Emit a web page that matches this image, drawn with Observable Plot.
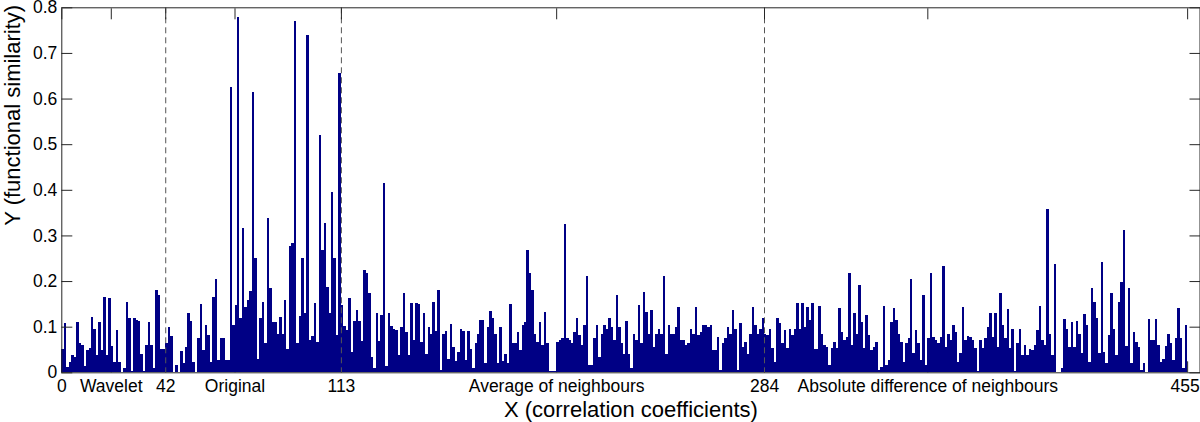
<!DOCTYPE html>
<html><head><meta charset="utf-8">
<script src="https://cdn.jsdelivr.net/npm/d3@7"></script>
<script src="https://cdn.jsdelivr.net/npm/@observablehq/plot@0.6"></script>
<style>html,body{margin:0;padding:0;background:#fff;} #chart svg{display:block;}</style>
</head><body><div id="chart"></div>
<script>
// Section 1: Wavelet coefficients (1..42)
const wavelet = [0.051,0.107,0.011,0.023,0.038,0.034,0.11,0.064,0.06,0.014,0.048,0.053,0.122,0.096,0.038,0.11,0.049,0.166,0.038,0.162,0.058,0.023,0.093,0.023,0.0,0.009,0.153,0.118,0.003,0.12,0.115,0.113,
 0.04,0.003,0.06,0.11,0.06,0.009,0.18,0.17,0.05,0.05];
// Section 2: Original (43..113)
const original = [0.064,0.1,0.08,0.0,0.016,0.0,0.047,0.02,0.056,0.13,0.113,0.023,0.0,0.075,0.15,0.049,0.104,0.082,0.023,0.166,0.204,0.027,0.076,0.076,0.027,0.027,0.626,0.104,
 0.148,0.778,0.118,0.317,0.144,0.159,0.178,0.614,0.25,0.029,0.118,0.155,0.064,0.338,0.184,0.11,0.11,0.083,0.122,0.083,0.159,0.05,0.277,0.284,0.769,0.064,0.124,0.25,0.13,0.74,0.071,0.08,0.151,0.067,0.52,0.268,0.327,0.188,0.13,0.396,0.251,0.082,0.656];
// Section 3: Average of neighbours (114..284)
const average = [0.148,0.102,0.093,0.162,0.045,0.113,0.137,0.113,0.069,0.224,0.217,0.173,0.034,0.01,0.131,0.069,0.126,0.414,0.014,0.13,0.102,0.096,0.093,0.037,0.099,0.173,0.089,0.037,0.151,0.071,0.151,0.149,0.067,
 0.13,0.04,0.1,0.085,0.155,0.09,0.18,0.005,0.085,0.09,0.03,0.105,0.055,0.025,0.045,0.095,0.09,0.028,0.09,0.05,0.01,0.065,0.085,0.115,0.115,0.02,0.1,0.135,0.12,
 0.085,0.02,0.1,0.025,0.04,0.02,0.15,0.064,0.064,0.089,0.049,0.104,0.11,
 0.268,0.217,0.18,0.085,0.067,0.11,0.06,0.133,0.064,0.003,0.003,0.003,0.067,0.071,0.075,0.325,0.075,0.071,0.064,0.089,0.118,0.082,0.06,0.104,0.211,0.016,0.016,0.075,0.104,0.034,0.085,0.104,0.096,0.118,
 0.1,0.071,0.17,0.1,0.064,0.04,0.112,0.04,0.009,0.085,0.071,0.148,0.064,0.177,0.133,0.085,0.137,0.056,0.085,0.096,0.085,0.21,0.04,0.104,0.085,0.085,0.1,0.144,0.071,0.071,0.06,0.064,0.096,0.085,0.144,0.082,0.089,0.104,0.104,0.1,
 0.104,0.049,0.049,0.078,0.005,0.064,0.075,0.1,0.085,0.137,0.096,0.005,0.107,0.056,0.067,0.04,0.085,0.144,0.104,0.085,0.096,0.118];
// Section 4: Absolute difference of neighbours (285..455)
const absDiff = [0.085,0.082,0.096,0.053,0.023,0.12,0.107,0.064,0.093,0.053,0.096,0.082,0.096,0.151,0.096,
 0.151,0.1,0.144,0.115,0.151,0.05,0.05,0.145,0.085,0.06,0.056,0.016,0.053,0.067,0.053,0.142,0.089,0.071,0.078,0.217,0.06,0.13,0.085,0.192,0.11,0.053,0.126,0.082,0.049,0.056,0.067,0.005,0.012,0.146,0.016,0.027,0.11,0.142,0.115,
 0.085,0.067,0.023,0.064,0.075,0.204,0.042,0.093,0.064,0.027,0.17,0.016,0.075,0.217,0.078,0.071,0.064,0.078,0.232,0.056,0.085,0.071,0.104,0.089,0.023,0.042,0.144,0.071,0.08,0.078,0.071,0.053,0.002,0.071,0.053,0.075,0.1,0.131,0.078,
 0.13,0.056,0.173,0.104,0.075,0.138,0.053,0.096,0.002,0.064,0.094,0.038,0.06,0.038,0.05,0.049,0.06,0.093,0.145,0.071,0.06,0.357,0.085,0.038,0.238,0.0,0.0,0.009,0.116,0.096,0.056,0.11,0.056,0.112,0.085,0.042,0.128,0.104,0.023,
 0.184,0.155,0.118,0.042,0.241,0.045,0.02,0.082,0.173,0.096,0.038,0.155,0.197,0.312,0.058,0.184,0.02,0.089,0.067,0.056,0.005,0.02,0.0,0.116,0.071,0.071,0.116,0.06,0.023,0.03,0.058,0.085,0.064,0.027,0.075,0.142,0.075,0.009,0.104];

const xTickValues = [0, 20, 42, 70, 113, 200, 284, 350, 455];
const xTickLabels = ["0", "Wavelet", "42", "Original", "113", "Average of neighbours", "284", "Absolute difference of neighbours", "455"];
const sectionBounds = [42, 113, 284];
const yTickValues = [0, 0.1, 0.2, 0.3, 0.4, 0.5, 0.6, 0.7, 0.8];
const yTickLabels = ["0", "0.1", "0.2", "0.3", "0.4", "0.5", "0.6", "0.7", "0.8"];
const xTitle = "X (correlation coefficients)";
const yTitle = "Y (functional similarity)";

const values = [...wavelet, ...original, ...average, ...absDiff];
const data = values.map((v, k) => ({i: k + 1, v}));

// all tick labels but the last are centred on their tick; the last one is kept inside the page
const innerTicks = xTickValues.slice(0, -1);
const lastTick = xTickValues.slice(-1);

const font = "'Liberation Sans', Arial, Helvetica, sans-serif";
const axisColor = "#262626";
const chart = Plot.plot({
  width: 1200, height: 422,
  marginLeft: 61.3, marginRight: 0.5, marginTop: 7.3, marginBottom: 49.7,
  style: {fontFamily: font, background: "#fff", color: "#000"},
  x: {domain: [0, 460], axis: null, label: null},
  y: {domain: [0, 0.8], axis: null, label: null},
  marks: [
    Plot.axisX(xTickValues, {anchor: "bottom", tickSize: -11, tickFormat: () => "", label: null, stroke: axisColor}),
    Plot.rect(data, {x1: d => d.i - 1, x2: d => d.i, y1: 0, y2: "v", fill: "#000085", shapeRendering: "crispEdges"}),
    Plot.ruleX(sectionBounds, {stroke: "#555", strokeDasharray: "6,4", strokeWidth: 1}),
    Plot.axisX(xTickValues, {anchor: "top", tickSize: -11, tickFormat: () => "", label: null, stroke: axisColor}),
    Plot.axisY(yTickValues, {anchor: "left", tickSize: -11, tickFormat: () => "", label: null, stroke: axisColor}),
    Plot.axisY(yTickValues, {anchor: "right", tickSize: -11, tickFormat: () => "", label: null, stroke: axisColor}),
    Plot.frame({stroke: axisColor}),
    Plot.text(innerTicks, {x: d => d, text: (d, i) => xTickLabels[i], frameAnchor: "bottom", textAnchor: "middle", lineAnchor: "top", dy: 6.8, fontSize: 17.5, fill: "#000"}),
    Plot.text(lastTick, {x: d => d, text: () => xTickLabels[xTickLabels.length - 1], frameAnchor: "bottom", textAnchor: "end", lineAnchor: "top", dx: 12, dy: 6.8, fontSize: 17.5, fill: "#000"}),
    Plot.text(yTickValues, {y: d => d, text: (d, i) => yTickLabels[i], frameAnchor: "left", textAnchor: "end", dx: -4.5, fontSize: 17.5, fill: "#000"}),
    Plot.text([xTitle], {text: d => d, frameAnchor: "bottom", textAnchor: "middle", lineAnchor: "top", dy: 29, fontSize: 22, fill: "#000"}),
    Plot.text([yTitle], {text: d => d, frameAnchor: "left", textAnchor: "middle", rotate: -90, dx: -49, dy: -75, fontSize: 22, fill: "#000"})
  ]
});
document.getElementById("chart").appendChild(chart);
</script>
</body></html>
